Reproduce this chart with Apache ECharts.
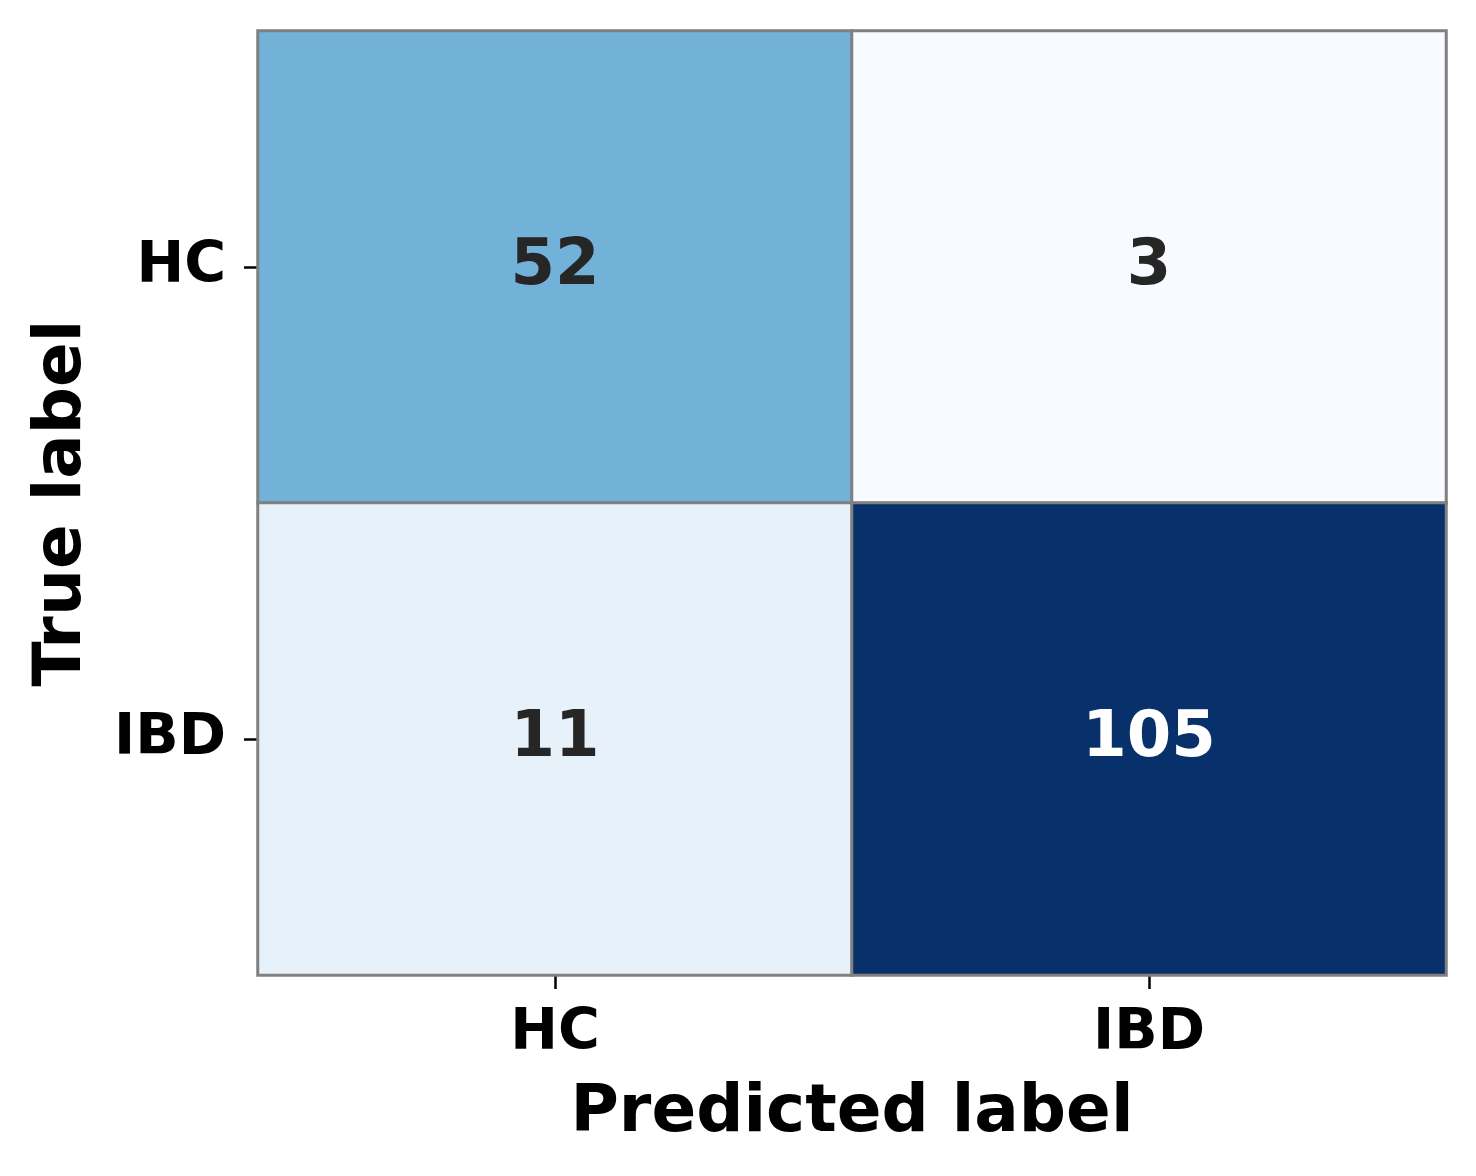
<!DOCTYPE html>
<html>
<head>
<meta charset="utf-8">
<script src="https://cdn.jsdelivr.net/npm/echarts@6/dist/echarts.min.js"></script>
<style>
html,body{margin:0;padding:0;background:#fff;}
#chart{width:1476px;height:1176px;}
</style>
</head>
<body>
<div id="chart"></div>
<script>
const predictedLabels = ['HC', 'IBD'];
const trueLabels = ['HC', 'IBD'];
// matrix[row = true label][col = predicted label]
const rowHC = [52, 3];
const rowIBD = [11, 105];
const matrix = [rowHC, rowIBD];
const blues = ['#f7fbff','#deebf7','#c6dbef','#9ecae1','#6baed6','#4292c6','#2171b5','#08519c','#08306b'];

const all = matrix.flat();
const vmin = Math.min(...all), vmax = Math.max(...all);
const mid = (vmin + vmax) / 2;
const data = [];
matrix.forEach((row, r) => row.forEach((v, c) => {
  data.push({value: [c, r, v], label: {color: v > mid ? '#ffffff' : '#262626'}});
}));

const font = 'DejaVu Sans';
const chart = echarts.init(document.getElementById('chart'), null, {renderer: 'canvas'});
chart.setOption({
  animation: false,
  backgroundColor: '#ffffff',
  grid: {left: 258, top: 31, width: 1188, height: 944, show: true, borderColor: '#808080', borderWidth: 2, backgroundColor: 'transparent'},
  xAxis: {
    type: 'category', data: predictedLabels,
    name: 'Predicted label', nameLocation: 'middle', nameGap: 106,
    nameTextStyle: {fontFamily: font, fontWeight: 'bold', fontSize: 66, color: '#000'},
    axisLine: {show: false},
    axisTick: {show: true, alignWithLabel: true, length: 14, lineStyle: {color: '#000', width: 2.5}},
    axisLabel: {fontFamily: font, fontWeight: 'bold', fontSize: 57, color: '#000', margin: 31},
    splitLine: {show: false}
  },
  yAxis: {
    type: 'category', data: trueLabels, inverse: true,
    name: 'True label', nameLocation: 'middle', nameGap: 162, nameRotate: 90,
    nameTextStyle: {fontFamily: font, fontWeight: 'bold', fontSize: 66, color: '#000'},
    axisLine: {show: false},
    axisTick: {show: true, alignWithLabel: true, length: 14, lineStyle: {color: '#000', width: 2.5}},
    axisLabel: {fontFamily: font, fontWeight: 'bold', fontSize: 57, color: '#000', margin: 32},
    splitLine: {show: false}
  },
  visualMap: {show: false, min: vmin, max: vmax, dimension: 2, inRange: {color: blues}},
  series: [{
    type: 'heatmap',
    data: data,
    label: {show: true, fontFamily: font, fontWeight: 'bold', fontSize: 64,
      formatter: p => String(p.value[2])},
    itemStyle: {borderColor: '#808080', borderWidth: 3},
    emphasis: {disabled: true}
  }]
});
</script>
</body>
</html>
